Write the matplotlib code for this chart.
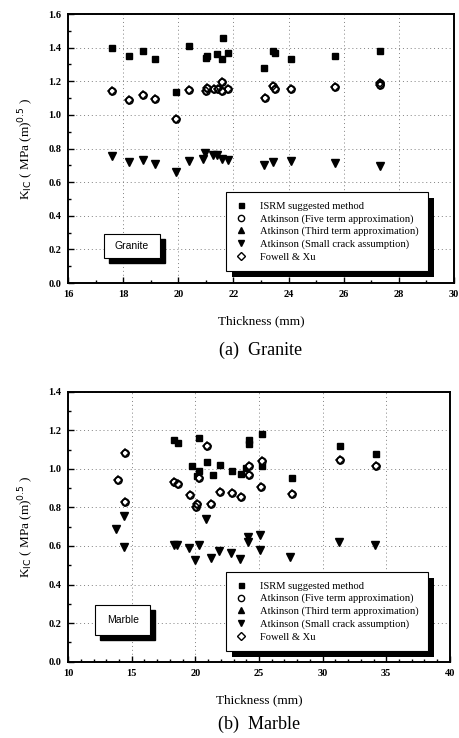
import matplotlib
matplotlib.use("Agg")
from matplotlib import pyplot as plt, patches
from matplotlib.lines import Line2D
from matplotlib.ticker import MultipleLocator, FormatStrFormatter

plt.rcParams.update({'font.family': 'Liberation Serif', 'font.size': 7})

# granite: thickness (mm) and K_IC (MPa m^0.5)
g_isrm_t = [17.6, 18.2, 18.7, 19.15, 19.9, 20.4, 21.0, 21.05, 21.4, 21.62, 21.6, 21.8,
            23.1, 23.45, 23.5, 24.1, 25.7, 27.3]
g_isrm_k = [1.40, 1.35, 1.38, 1.33, 1.135, 1.41, 1.34, 1.35, 1.36, 1.455, 1.335, 1.37,
            1.28, 1.38, 1.37, 1.33, 1.35, 1.38]
g_five_t = [17.6, 18.2, 18.7, 19.15, 19.9, 20.4, 21.0, 21.05, 21.3, 21.45, 21.6, 21.6,
            21.8, 23.15, 23.45, 23.5, 24.1, 25.7, 27.3, 27.3]
g_five_k = [1.142, 1.088, 1.12, 1.094, 0.973, 1.148, 1.145, 1.16, 1.152, 1.155, 1.197, 1.142,
            1.156, 1.10, 1.17, 1.155, 1.155, 1.168, 1.19, 1.175]
g_third_t = g_five_t
g_third_k = g_five_k
g_small_t = [17.6, 18.2, 18.7, 19.15, 19.9, 20.4, 20.9, 20.95, 21.27, 21.4, 21.6, 21.8,
             23.1, 23.45, 24.1, 25.7, 27.3]
g_small_k = [0.755, 0.717, 0.731, 0.708, 0.658, 0.724, 0.74, 0.773, 0.76, 0.762, 0.74, 0.73,
             0.704, 0.72, 0.724, 0.712, 0.694]
g_fowell_t = g_five_t
g_fowell_k = g_five_k

# marble
m_isrm_t = [18.3, 18.6, 20.3, 19.7, 20.3, 20.1, 20.9, 21.4, 21.9, 22.9, 23.6, 24.0,
            24.2, 24.2, 25.2, 25.2, 27.6, 31.4, 34.2]
m_isrm_k = [1.148, 1.136, 1.16, 1.017, 0.988, 0.965, 1.036, 0.969, 1.021, 0.991, 0.974, 1.005,
            1.13, 1.148, 1.183, 1.017, 0.951, 1.118, 1.078]
m_five_t = [14.5, 13.9, 14.5, 18.3, 18.6, 19.6, 20.05, 20.1, 20.3, 20.9, 21.2, 21.9,
            22.9, 23.6, 24.2, 24.25, 25.2, 25.15, 27.6, 31.4, 34.2]
m_five_k = [1.081, 0.943, 0.826, 0.93, 0.922, 0.866, 0.803, 0.817, 0.951, 1.118, 0.82, 0.881,
            0.873, 0.852, 0.97, 1.012, 1.043, 0.908, 0.87, 1.047, 1.016]
m_third_t = m_five_t
m_third_k = m_five_k
m_small_t = [14.4, 13.8, 14.4, 18.35, 18.55, 19.5, 20.0, 20.3, 20.8, 21.2, 21.85, 22.8,
             23.5, 24.1, 24.1, 25.1, 25.1, 27.45, 31.3, 34.1]
m_small_k = [0.756, 0.687, 0.594, 0.605, 0.605, 0.588, 0.525, 0.605, 0.742, 0.535, 0.573, 0.565,
             0.533, 0.648, 0.62, 0.655, 0.577, 0.544, 0.619, 0.605]
m_fowell_t = m_five_t
m_fowell_k = m_five_k

labels = ['ISRM suggested method', 'Atkinson (Five term approximation)',
          'Atkinson (Third term approximation)', 'Atkinson (Small crack assumption)',
          'Fowell & Xu']


def draw(ax, isrm, five, third, small, fowell):
    ax.plot(*third, '^', color='k', ms=3.5, ls='none', zorder=2)
    ax.plot(*isrm, 's', color='k', ms=3.8, ls='none', zorder=3)
    ax.plot(*small, 'v', color='k', ms=5.2, ls='none', zorder=3)
    ax.plot(*five, 'o', mfc='white', mec='k', mew=1.2, ms=5, ls='none', zorder=4)
    ax.plot(*fowell, 'D', mfc='none', mec='k', mew=1.1, ms=4.2, ls='none', zorder=5)


def style(ax, xlim, ylim, xmaj, xmin):
    ax.set_xlim(*xlim)
    ax.set_ylim(*ylim)
    ax.xaxis.set_major_locator(MultipleLocator(xmaj))
    ax.xaxis.set_minor_locator(MultipleLocator(xmin))
    ax.yaxis.set_major_locator(MultipleLocator(0.2))
    ax.yaxis.set_minor_locator(MultipleLocator(0.1))
    ax.yaxis.set_major_formatter(FormatStrFormatter('%.1f'))
    ax.tick_params(which='both', direction='in', labelsize=7.5, width=1)
    ax.tick_params(which='major', length=4, pad=5)
    ax.tick_params(which='minor', length=2)
    for lab in ax.get_xticklabels() + ax.get_yticklabels():
        lab.set_fontweight('bold')
    ax.grid(True, ls=(0, (1, 3)), color='0.5', lw=0.7)
    for s in ax.spines.values():
        s.set_linewidth(1.4)
    ax.set_xlabel('Thickness (mm)', fontsize=9.5, labelpad=12)
    ax.set_ylabel(r'K$_{\rm IC}$ ( MPa (m)$^{0.5}$ )', fontsize=9.5, labelpad=9)


def shadow_box(ax, x0, y0, x1, y1, off=0.013):
    sh = patches.Rectangle((x0 + off, y0 - off * 1.4), x1 - x0, y1 - y0, transform=ax.transAxes,
                           facecolor='k', edgecolor='k', zorder=6, clip_on=False)
    box = patches.Rectangle((x0, y0), x1 - x0, y1 - y0, transform=ax.transAxes,
                            facecolor='white', edgecolor='k', lw=0.8, zorder=7, clip_on=False)
    ax.add_patch(sh)
    ax.add_patch(box)


handles = [Line2D([], [], marker='s', color='k', ls='none', ms=3.6),
           Line2D([], [], marker='o', mfc='white', mec='k', ls='none', ms=4.5),
           Line2D([], [], marker='^', color='k', ls='none', ms=4.5),
           Line2D([], [], marker='v', color='k', ls='none', ms=4.5),
           Line2D([], [], marker='D', mfc='white', mec='k', ls='none', ms=4)]

fig = plt.figure(figsize=(4.6, 7.38), dpi=100)
ax1 = fig.add_axes([0.148, 0.6165, 0.839, 0.3645])
ax2 = fig.add_axes([0.148, 0.1034, 0.830, 0.3659])

draw(ax1, (g_isrm_t, g_isrm_k), (g_five_t, g_five_k), (g_third_t, g_third_k),
     (g_small_t, g_small_k), (g_fowell_t, g_fowell_k))
draw(ax2, (m_isrm_t, m_isrm_k), (m_five_t, m_five_k), (m_third_t, m_third_k),
     (m_small_t, m_small_k), (m_fowell_t, m_fowell_k))
style(ax1, (16, 30), (0, 1.6), 2, 1)
style(ax2, (10, 40), (0, 1.4), 5, 1)

legs = []
for ax, anchor in ((ax1, (0.4085, 0.339)), (ax2, (0.413, 0.333))):
    leg = ax.legend(handles, labels, loc='upper left', bbox_to_anchor=anchor, fontsize=7.6,
                    frameon=True, fancybox=False, edgecolor='k', framealpha=1,
                    handlelength=1.0, handletextpad=1.3, labelspacing=0.3, borderpad=0.9,
                    borderaxespad=0)
    leg.get_frame().set_linewidth(0.8)
    leg.set_zorder(10)
    legs.append(leg)

fig.canvas.draw()
for ax, leg in zip((ax1, ax2), legs):
    bb = leg.get_window_extent().transformed(ax.transAxes.inverted())
    sh = patches.Rectangle((bb.x0 + 0.016, bb.y0 - 0.022), bb.width, bb.height,
                           transform=ax.transAxes, facecolor='k', zorder=9, clip_on=False)
    ax.add_patch(sh)

shadow_box(ax1, 0.093, 0.093, 0.238, 0.182)
ax1.text(0.1655, 0.1375, 'Granite', transform=ax1.transAxes, ha='center', va='center',
         family='Liberation Sans', fontsize=7.5, zorder=8)
shadow_box(ax2, 0.071, 0.099, 0.215, 0.21)
ax2.text(0.143, 0.1545, 'Marble', transform=ax2.transAxes, ha='center', va='center',
         family='Liberation Sans', fontsize=7.5, zorder=8)

fig.text(0.5667, 1 - 350 / 738, '(a)  Granite', ha='center', va='center', fontsize=13)
fig.text(0.5630, 1 - 724 / 738, '(b)  Marble', ha='center', va='center', fontsize=13)

fig.savefig('out.png', dpi=100)
